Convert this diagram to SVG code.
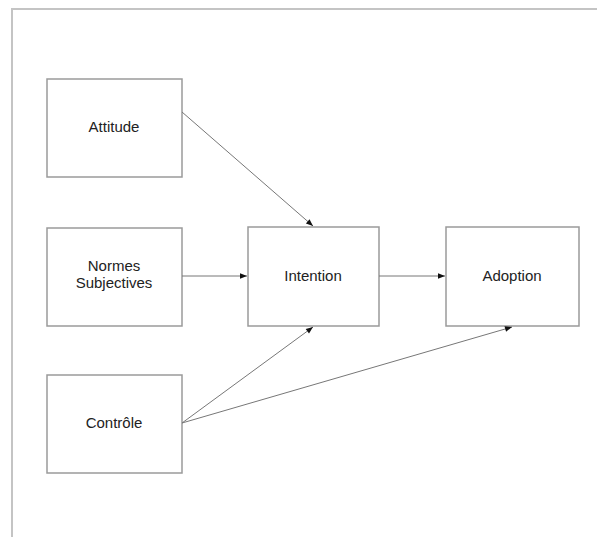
<svg xmlns="http://www.w3.org/2000/svg" width="597" height="537" viewBox="0 0 597 537">
<defs>
<style>
.box{fill:#fff;stroke:#9a9a9a;stroke-width:1.5}
.lbl{font-family:"Liberation Sans",Arial,sans-serif;font-size:15px;fill:#222;text-anchor:middle}
.edge{stroke:#777;stroke-width:1;fill:none;marker-end:url(#ah)}
</style>
<marker id="ah" viewBox="0 0 10 10" refX="10" refY="5" markerWidth="9" markerHeight="7" markerUnits="userSpaceOnUse" orient="auto">
<path d="M0,1 L10,5 L0,9 z" fill="#111"/>
</marker>
</defs>
<rect width="597" height="537" fill="#fff"/>
<g id="frame" fill="none" stroke="#c4c4c4" stroke-width="2">
<path d="M12,537 V9 H597"/>
</g>
<g id="attitude"><rect class="box" x="47" y="79" width="135" height="98"/><text class="lbl" x="114" y="132">Attitude</text></g>
<g id="normes"><rect class="box" x="47" y="228" width="135" height="98"/><text class="lbl" x="114" y="271">Normes</text><text class="lbl" x="114" y="288">Subjectives</text></g>
<g id="controle"><rect class="box" x="47" y="375" width="135" height="98"/><text class="lbl" x="114" y="428">Contrôle</text></g>
<g id="intention"><rect class="box" x="248" y="227" width="131" height="99"/><text class="lbl" x="313" y="281">Intention</text></g>
<g id="adoption"><rect class="box" x="446" y="227" width="133" height="99"/><text class="lbl" x="512" y="281">Adoption</text></g>
<g id="connectors">
<line class="edge" x1="182" y1="112" x2="313" y2="226"/>
<line class="edge" x1="182" y1="276" x2="247" y2="276"/>
<line class="edge" x1="379" y1="276" x2="445" y2="276"/>
<line class="edge" x1="182" y1="423" x2="313" y2="327"/>
<line class="edge" x1="182" y1="423" x2="512" y2="327"/>
</g>
</svg>
